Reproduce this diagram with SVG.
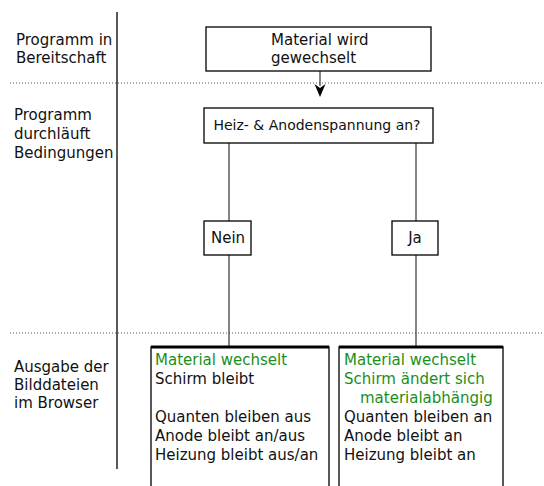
<svg xmlns="http://www.w3.org/2000/svg" width="544" height="486" viewBox="0 0 544 486">
<style>
text{font-family:"DejaVu Sans",Verdana,sans-serif;font-size:15px;fill:#111}
.s{font-size:14px}
.g{fill:#1a8f1a}
.box{fill:#fff;stroke:#000;stroke-width:1.3}
.conn{stroke:#333;stroke-width:1.2;fill:none}
.dot{stroke:#555;stroke-width:1;stroke-dasharray:1 2}
</style>
<g id="lanes">
<line x1="117" y1="12" x2="117" y2="469" stroke="#222" stroke-width="1.5"/>
<line class="dot" x1="10" y1="83" x2="544" y2="83"/>
<line class="dot" x1="10" y1="333" x2="544" y2="333"/>
<text x="16" y="45">Programm in</text>
<text x="16" y="63">Bereitschaft</text>
<text x="14" y="120">Programm</text>
<text x="14" y="139">durchläuft</text>
<text x="14" y="158">Bedingungen</text>
<text x="14" y="372">Ausgabe der</text>
<text x="14" y="390">Bilddateien</text>
<text x="14" y="408">im Browser</text>
</g>
<g id="connectors">
<line class="conn" x1="320" y1="71" x2="320" y2="86" stroke="#000"/>
<path d="M314.5,84 L320,88 L325.5,84 L320,97 Z" fill="#000"/>
<line class="conn" x1="229" y1="143" x2="229" y2="221"/>
<line class="conn" x1="229" y1="255" x2="229" y2="347"/>
<line class="conn" x1="416" y1="143" x2="416" y2="221"/>
<line class="conn" x1="416" y1="255" x2="416" y2="347"/>
</g>
<g id="n1">
<rect class="box" x="206" y="27" width="225" height="44"/>
<text x="271" y="45">Material wird</text>
<text x="271" y="63">gewechselt</text>
</g>
<g id="n2">
<rect class="box" x="204" y="108" width="229" height="35"/>
<text class="s" x="317" y="130" text-anchor="middle">Heiz- &amp; Anodenspannung an?</text>
</g>
<g id="nein">
<rect class="box" x="204" y="221" width="47" height="34" stroke="#222"/>
<text x="228" y="243" text-anchor="middle">Nein</text>
</g>
<g id="ja">
<rect class="box" x="392" y="221" width="46" height="34" stroke="#222"/>
<text x="415" y="243" text-anchor="middle">Ja</text>
</g>
<g id="out-nein">
<path d="M151,486 V347 H329 V486" fill="#fff" stroke="#000" stroke-width="1.3"/>
<line x1="151" y1="347" x2="329" y2="347" stroke="#000" stroke-width="3"/>
<text class="g" x="155" y="365">Material wechselt</text>
<text x="155" y="384">Schirm bleibt</text>
<text x="155" y="422">Quanten bleiben aus</text>
<text x="155" y="441">Anode bleibt an/aus</text>
<text x="155" y="460">Heizung bleibt aus/an</text>
</g>
<g id="out-ja">
<path d="M339,486 V347 H503 V486" fill="#fff" stroke="#000" stroke-width="1.3"/>
<line x1="339" y1="347" x2="503" y2="347" stroke="#000" stroke-width="3"/>
<text class="g" x="344" y="365">Material wechselt</text>
<text class="g" x="344" y="384">Schirm ändert sich</text>
<text class="g" x="360" y="403">materialabhängig</text>
<text x="344" y="422">Quanten bleiben an</text>
<text x="344" y="441">Anode bleibt an</text>
<text x="344" y="460">Heizung bleibt an</text>
</g>
</svg>
